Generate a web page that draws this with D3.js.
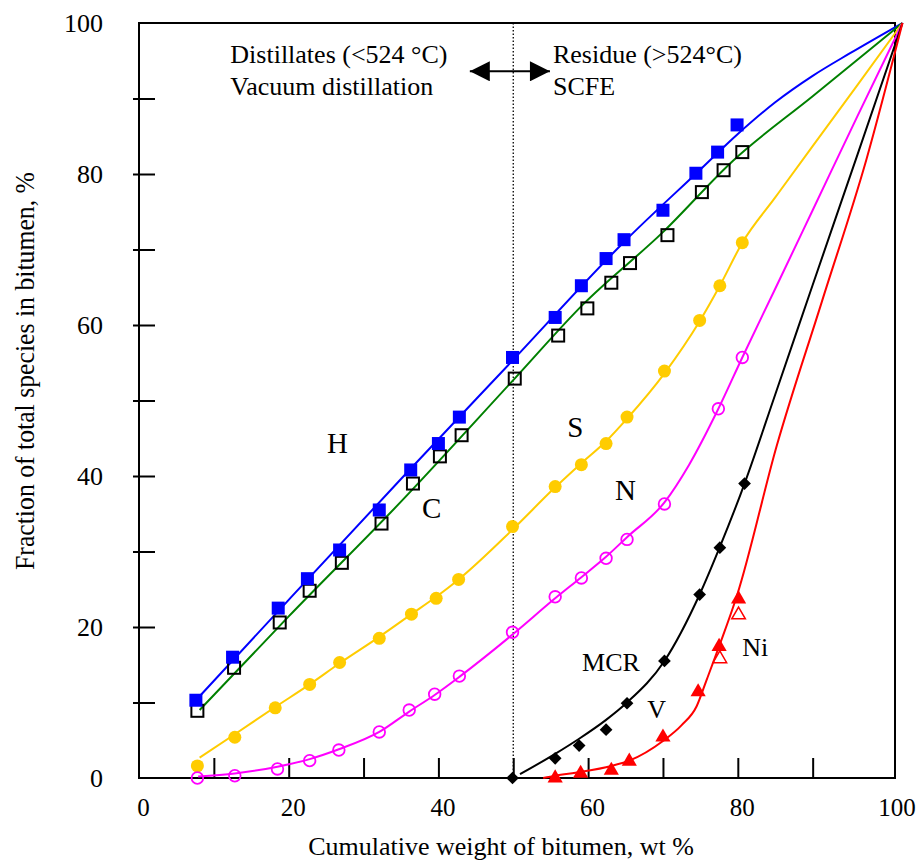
<!DOCTYPE html>
<html>
<head>
<meta charset="utf-8">
<script src="https://cdn.jsdelivr.net/npm/d3@7"></script>
<style>
  body { margin: 0; background: #fff; }
  text { font-family: "Liberation Serif", "Times New Roman", serif; fill: #000; }
</style>
</head>
<body>
<script>
// measured points (cumulative wt % of bitumen, fraction %)
var hX = [7.6, 12.5, 18.6, 22.5, 26.8, 32.1, 36.3, 40.0, 42.8, 49.9, 55.6, 59.1, 62.4, 64.8, 70.0, 74.4, 77.3, 79.9];
var hY = [10.3, 16.0, 22.5, 26.4, 30.2, 35.5, 40.8, 44.3, 47.8, 55.7, 61.0, 65.2, 68.8, 71.3, 75.2, 80.1, 82.9, 86.5];

var cX = [7.8, 12.7, 18.8, 22.8, 27.1, 32.4, 36.6, 40.2, 43.1, 50.2, 56.0, 59.9, 63.1, 65.6, 70.6, 75.2, 78.1, 80.6];
var cY = [8.9, 14.6, 20.6, 24.8, 28.5, 33.7, 39.0, 42.6, 45.4, 52.9, 58.6, 62.2, 65.6, 68.2, 71.9, 77.6, 80.5, 82.9];

var sX = [7.8, 12.8, 18.2, 22.8, 26.8, 32.1, 36.4, 39.7, 42.7, 49.9, 55.6, 59.1, 62.4, 65.2, 70.2, 74.9, 77.6, 80.6];
var sY = [1.6, 5.4, 9.3, 12.4, 15.3, 18.5, 21.7, 23.8, 26.3, 33.3, 38.6, 41.5, 44.3, 47.8, 53.9, 60.6, 65.2, 70.9];

var nX = [7.8, 12.8, 18.5, 22.8, 26.7, 32.1, 36.1, 39.5, 42.8, 49.9, 55.6, 59.1, 62.4, 65.2, 70.2, 77.4, 80.6];
var nY = [0.0, 0.3, 1.2, 2.3, 3.7, 6.1, 9.0, 11.1, 13.5, 19.3, 24.0, 26.5, 29.1, 31.6, 36.3, 48.9, 55.7];

var mcrX = [49.9, 55.6, 58.8, 62.4, 65.2, 70.2, 74.9, 77.6, 80.9];
var mcrY = [0.0, 2.6, 4.3, 6.4, 9.9, 15.5, 24.3, 30.5, 39.0];

var vX = [55.6, 59.0, 63.1, 65.5, 70.0, 74.7, 77.5, 80.1];
var vY = [0.0, 0.6, 1.0, 2.2, 5.4, 11.4, 17.4, 23.7];

var niX = [77.6, 80.1];
var niY = [15.8, 21.6];

// fitted curves, all running into the top right corner
var hFitX = [7.6, 20, 35, 50, 65, 75, 80, 85, 90, 95, 102];
var hFitY = [10.3, 23.6, 39.6, 55.4, 71.2, 80.6, 85.3, 89.5, 93.0, 96.0, 100];

var cFitX = [8.1, 20, 35, 50, 59.4, 70, 79.4, 90, 102];
var cFitY = [9.0, 21.4, 36.6, 52.7, 62.8, 72.3, 81.8, 90.3, 100];

var sFitX = [8.1, 12.8, 18.2, 22.8, 26.8, 32.1, 36.4, 39.7, 42.7, 49.9, 55.6, 59.1, 62.4, 65.2, 70.2, 74.9, 77.6, 80.6, 85, 90, 96, 102];
var sFitY = [2.7, 5.8, 9.4, 12.4, 15.2, 18.7, 21.7, 24.0, 26.3, 32.9, 38.5, 41.7, 44.6, 47.6, 53.6, 60.5, 65.2, 70.9, 76.9, 83.7, 91.8, 100];

var nFitX = [7.9, 12.8, 18.5, 22.8, 26.7, 32.1, 36.1, 39.5, 42.8, 49.9, 55.6, 59.1, 62.4, 65.2, 70.2, 73.5, 77.4, 80.6, 85, 90, 96, 102];
var nFitY = [0.2, 0.6, 1.5, 2.5, 3.8, 6.1, 8.8, 11.0, 13.4, 19.0, 23.8, 26.6, 29.3, 31.9, 36.5, 41.5, 48.9, 55.7, 64.8, 75.2, 87.7, 100];

var mcrFitX = [50.9, 55.6, 58.8, 62.4, 65.2, 70.2, 74.9, 77.6, 80.9, 85, 90, 96, 102];
var mcrFitY = [0.5, 3.2, 5.2, 7.7, 10.0, 15.5, 24.3, 30.6, 39.0, 50.8, 65.3, 82.6, 100];

var vFitX = [54, 55.6, 59, 63.1, 65.5, 70, 72.5, 74.5, 75.8, 77.6, 79.9, 85.2, 91.2, 97.2, 102];
var vFitY = [0, 0.3, 0.8, 1.6, 2.3, 4.9, 7.0, 9.5, 12.9, 17.7, 24.2, 44.0, 63.0, 82.0, 100];

var xTickLabels = [0, 20, 40, 60, 80, 100];
var yTickLabels = [0, 20, 40, 60, 80, 100];

const width = 922;
const height = 862;

const x = d3.scaleLinear().domain([0, 101]).range([139, 895]);
const y = d3.scaleLinear().domain([0, 100]).range([778, 23]);

const svg = d3.select("body").append("svg")
  .attr("width", width)
  .attr("height", height);

// zip helper
function pts(xs, ys) {
  return xs.map((v, i) => [v, ys[i]]);
}

// frame
svg.append("rect")
  .attr("x", x(0))
  .attr("y", y(100))
  .attr("width", x(101) - x(0))
  .attr("height", y(0) - y(100))
  .attr("fill", "none")
  .attr("stroke", "#000")
  .attr("stroke-width", 2);

// x ticks (inward) and labels
const xTicks = svg.append("g")
  .attr("transform", "translate(0," + y(0) + ")")
  .call(d3.axisBottom(x).tickValues(d3.range(10, 100, 10)).tickSize(-20).tickFormat(""));
xTicks.select(".domain").remove();
xTicks.selectAll(".tick line").attr("stroke-width", 2);

const xLab = svg.append("g")
  .attr("transform", "translate(0," + y(0) + ")")
  .call(d3.axisBottom(x).tickValues(xTickLabels).tickSize(0).tickPadding(20));
xLab.select(".domain").remove();
xLab.selectAll("text")
  .attr("dx", d => d == 100 ? 9 : 4)
  .style("font-size", "25px")
  .style("font-family", "Liberation Serif");

// y ticks (crossing) and labels
const yTicks = svg.append("g")
  .attr("transform", "translate(" + x(0) + ",0)")
  .call(d3.axisLeft(y).tickValues(d3.range(10, 100, 10)).tickFormat(""));
yTicks.select(".domain").remove();
yTicks.selectAll(".tick line").attr("x1", 16).attr("x2", -6).attr("stroke-width", 2);

const yLab = svg.append("g")
  .attr("transform", "translate(" + x(0) + ",0)")
  .call(d3.axisLeft(y).tickValues(yTickLabels).tickSize(0).tickPadding(36));
yLab.select(".domain").remove();
yLab.selectAll("text")
  .style("font-size", "26px")
  .style("font-family", "Liberation Serif");

// axis titles
svg.append("text")
  .attr("x", 501)
  .attr("y", 855)
  .attr("text-anchor", "middle")
  .style("font-size", "26px")
  .text("Cumulative weight of bitumen, wt %");

svg.append("text")
  .attr("transform", "translate(34,371) rotate(-90)")
  .attr("text-anchor", "middle")
  .attr("textLength", 398)
  .attr("lengthAdjust", "spacingAndGlyphs")
  .style("font-size", "27px")
  .style("font-family", "Liberation Serif")
  .text("Fraction of total species in bitumen, %");

// 524 C cut line
svg.append("line")
  .attr("x1", x(50)).attr("x2", x(50))
  .attr("y1", y(100)).attr("y2", y(0))
  .attr("stroke", "#000")
  .attr("stroke-width", 1.3)
  .attr("stroke-dasharray", "1.5,2");

// double arrow
svg.append("defs").selectAll("marker")
  .data(["arrEnd", "arrStart"])
  .join("marker")
  .attr("id", d => d)
  .attr("viewBox", "0 0 10 10")
  .attr("refX", 10).attr("refY", 5)
  .attr("markerWidth", 24).attr("markerHeight", 20)
  .attr("markerUnits", "userSpaceOnUse")
  .attr("orient", d => d == "arrEnd" ? "auto" : "auto-start-reverse")
  .append("path")
  .attr("d", "M0,0 L10,5 L0,10 Z")
  .attr("fill", "#000");

svg.append("line")
  .attr("x1", x(44.2)).attr("x2", x(54.9))
  .attr("y1", y(93.6)).attr("y2", y(93.6))
  .attr("stroke", "#000")
  .attr("stroke-width", 2)
  .attr("marker-start", "url(#arrStart)")
  .attr("marker-end", "url(#arrEnd)");

// annotations
const notes = [
  {t: "Distillates (<524 °C)", x: 12.2, y: 94.7, s: 26},
  {t: "Vacuum distillation", x: 12.2, y: 90.4, s: 26},
  {t: "Residue (>524°C)", x: 55.3, y: 94.7, s: 26},
  {t: "SCFE", x: 55.3, y: 90.4, s: 26},
  {t: "H", x: 25.1, y: 43.0, s: 29},
  {t: "C", x: 37.8, y: 34.5, s: 29},
  {t: "S", x: 57.2, y: 45.2, s: 29},
  {t: "N", x: 63.6, y: 36.8, s: 29},
  {t: "MCR", x: 59.2, y: 14.2, s: 26},
  {t: "V", x: 67.9, y: 7.9, s: 26},
  {t: "Ni", x: 80.6, y: 16.2, s: 26}
];
svg.append("g").selectAll("text")
  .data(notes)
  .join("text")
  .attr("x", d => x(d.x))
  .attr("y", d => y(d.y))
  .style("font-size", d => d.s + "px")
  .text(d => d.t);

// fitted lines
const line = d3.line()
  .x(d => x(d[0]))
  .y(d => y(d[1]))
  .curve(d3.curveMonotoneX);

const fits = [
  {xs: hFitX, ys: hFitY, c: "#0000ff"},
  {xs: cFitX, ys: cFitY, c: "#008000"},
  {xs: sFitX, ys: sFitY, c: "#ffcc00"},
  {xs: nFitX, ys: nFitY, c: "#ff00ff"},
  {xs: mcrFitX, ys: mcrFitY, c: "#000000"},
  {xs: vFitX, ys: vFitY, c: "#ff0000"}
];
svg.append("g").selectAll("path")
  .data(fits)
  .join("path")
  .attr("d", d => line(pts(d.xs, d.ys)))
  .attr("fill", "none")
  .attr("stroke", d => d.c)
  .attr("stroke-width", 2);

// markers
const g = svg.append("g");

g.selectAll(".c").data(pts(cX, cY)).join("rect").attr("class", "c")
  .attr("x", d => x(d[0]) - 6).attr("y", d => y(d[1]) - 6)
  .attr("width", 12).attr("height", 12)
  .attr("fill", "none").attr("stroke", "#000").attr("stroke-width", 2);

g.selectAll(".h").data(pts(hX, hY)).join("rect").attr("class", "h")
  .attr("x", d => x(d[0]) - 6.5).attr("y", d => y(d[1]) - 6.5)
  .attr("width", 13).attr("height", 13)
  .attr("fill", "#0000ff");

g.selectAll(".s").data(pts(sX, sY)).join("circle").attr("class", "s")
  .attr("cx", d => x(d[0])).attr("cy", d => y(d[1]))
  .attr("r", 6.5).attr("fill", "#ffcc00");

g.selectAll(".n").data(pts(nX, nY)).join("circle").attr("class", "n")
  .attr("cx", d => x(d[0])).attr("cy", d => y(d[1]))
  .attr("r", 5.8).attr("fill", "none").attr("stroke", "#ff00ff").attr("stroke-width", 1.8);

g.selectAll(".mcr").data(pts(mcrX, mcrY)).join("path").attr("class", "mcr")
  .attr("transform", d => "translate(" + x(d[0]) + "," + y(d[1]) + ") rotate(45)")
  .attr("d", d3.symbol(d3.symbolSquare, 81))
  .attr("fill", "#000");

g.selectAll(".v").data(pts(vX, vY)).join("path").attr("class", "v")
  .attr("transform", d => "translate(" + x(d[0]) + "," + y(d[1]) + ")")
  .attr("d", d3.symbol(d3.symbolTriangle, 100))
  .attr("fill", "#ff0000");

g.selectAll(".ni").data(pts(niX, niY)).join("path").attr("class", "ni")
  .attr("transform", d => "translate(" + x(d[0]) + "," + y(d[1]) + ")")
  .attr("d", d3.symbol(d3.symbolTriangle, 80))
  .attr("fill", "none").attr("stroke", "#ff0000").attr("stroke-width", 1.5);
</script>
</body>
</html>
